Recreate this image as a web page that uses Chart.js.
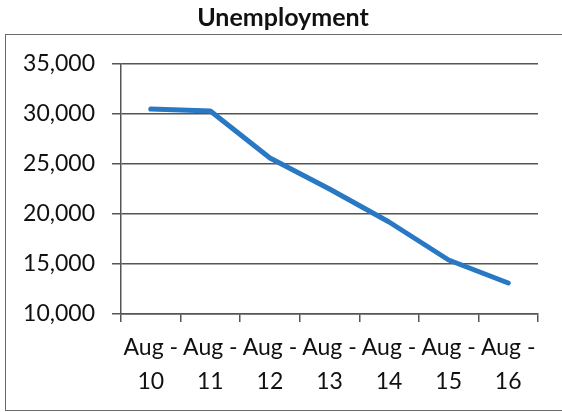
<!DOCTYPE html>
<html>
<head>
<meta charset="utf-8">
<script src="https://cdn.jsdelivr.net/npm/chart.js@4"></script>
<style>
  html, body { margin: 0; padding: 0; background: #fff; }
  #wrap { position: relative; width: 562px; height: 412px; overflow: hidden; }
  #frame {
    position: absolute; left: 5px; top: 34px; width: 600px; height: 375px;
    border: 1.5px solid #6a6a6a;
  }
  canvas { position: absolute; left: 0; top: 0; }
</style>
</head>
<body>
<div id="wrap">
  <div id="frame"></div>
  <canvas id="chart" width="562" height="412"></canvas>
</div>
<script>
const categories = [['Aug -', '10'], ['Aug -', '11'], ['Aug -', '12'], ['Aug -', '13'],
  ['Aug -', '14'], ['Aug -', '15'], ['Aug -', '16']];
const unemployment = [30500, 30300, 25600, 22500, 19200, 15400, 13100];
const yTicks = [10000, 15000, 20000, 25000, 30000, 35000];

const GRID = '#555';
const FONT = 'Lato';

// title sits centred on the whole frame, not on the padded area
const shiftTitle = {
  id: 'shiftTitle',
  afterLayout(chart) {
    const t = chart.titleBlock;
    if (!t) return;
    t.left += 14;
    t.right += 14;
  }
};

new Chart(document.getElementById('chart'), {
  type: 'line',
  data: {
    labels: categories,
    datasets: [{
      label: 'Unemployment',
      data: unemployment,
      borderColor: 'rgb(40, 120, 196)',
      borderWidth: 5,
      pointRadius: 0,
      tension: 0,
      borderCapStyle: 'round',
      borderJoinStyle: 'round'
    }]
  },
  options: {
    responsive: false,
    animation: false,
    layout: { padding: { left: 0, right: 24, top: 0, bottom: 0 } },
    plugins: {
      legend: { display: false },
      tooltip: { enabled: false },
      title: {
        display: true,
        text: 'Unemployment',
        color: '#111',
        font: { family: FONT, size: 25, weight: 'bold', lineHeight: 1.2 },
        padding: { top: 3, bottom: 31 }
      }
    },
    scales: {
      x: {
        offset: true,
        grid: {
          offset: true,
          drawOnChartArea: false,
          drawTicks: true,
          tickLength: 8,
          color: GRID,
          lineWidth: 1.5
        },
        border: { color: GRID, width: 1.5 },
        ticks: {
          color: '#111',
          maxRotation: 0,
          autoSkip: false,
          padding: 9,
          font: { family: FONT, size: 23, lineHeight: 1.47 }
        },
        afterFit(scale) { scale.height = 98; }
      },
      y: {
        min: yTicks[0],
        max: yTicks[yTicks.length - 1],
        afterBuildTicks(scale) { scale.ticks = yTicks.map(v => ({ value: v })); },
        grid: { color: GRID, lineWidth: 1.5, tickLength: 9 },
        border: { color: GRID, width: 1.5 },
        ticks: {
          color: '#111',
          padding: 17,
          font: { family: FONT, size: 23 },
          callback: v => v.toLocaleString('en-US')
        },
        afterFit(scale) { scale.width = 121; }
      }
    }
  },
  plugins: [shiftTitle]
});
</script>
</body>
</html>
